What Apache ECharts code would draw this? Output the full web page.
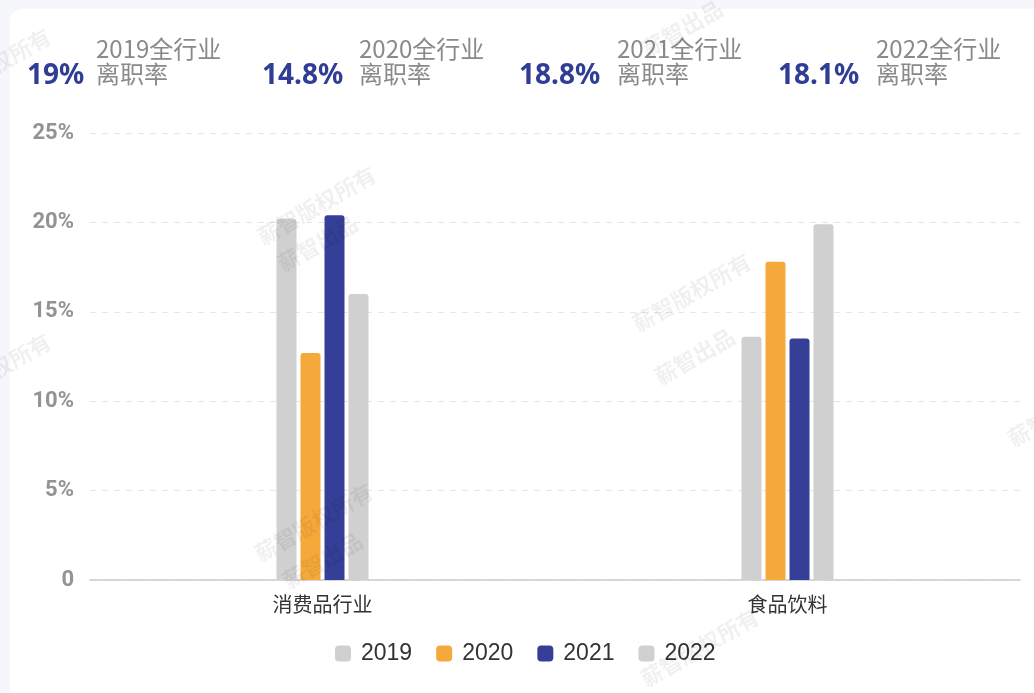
<!DOCTYPE html>
<html>
<head>
<meta charset="utf-8">
<script src="https://cdn.jsdelivr.net/npm/echarts@6/dist/echarts.min.js"></script>
<style>
  html, body { margin: 0; padding: 0; background: #f5f7fb; }
  #card { position: absolute; left: 10px; top: 9px; width: 1040px; height: 700px; background: #fff; border-radius: 12px; }
  #chart { position: absolute; left: 0; top: 0; width: 1034px; height: 693px; }
</style>
</head>
<body>
<div id="card"></div>
<div id="chart"></div>
<script>
"use strict";
/** Categories on the x axis */
const categories = ["消费品行业", "食品饮料"];
/** Years, one series each */
const years = ["2019", "2020", "2021", "2022"];
/** Turnover rate (%) per year, in category order */
const rate2019 = [20.2, 13.6];
const rate2020 = [12.7, 17.8];
const rate2021 = [20.4, 13.5];
const rate2022 = [16.0, 19.9];
/** Whole-industry turnover rate (%) per year, shown in the header */
const overallRate = [19, 14.8, 18.8, 18.1];
/** Y axis ticks */
const yMax = 25;
const yStep = 5;

const seriesValues = [rate2019, rate2020, rate2021, rate2022];
const colors = ["#d0d0d0", "#f6a93b", "#353f97", "#d0d0d0"];

/* ============= header blocks ============= */
const numberX = [27, 262, 519, 778];
const labelX = [96, 359, 617, 876];
let graphics = [];
years.forEach((year, i) => {
    graphics.push({
        type: "text", left: numberX[i], top: 62,
        style: { text: overallRate[i] + "%", fill: "#2f3d94", font: "bold 28px 'Noto Sans', sans-serif" }
    });
    graphics.push({
        type: "text", left: labelX[i], top: 36,
        style: {
            text: year + "全行业\n离职率", fill: "#8a8a8a",
            font: "24px 'Noto Sans CJK SC', sans-serif", lineHeight: 25
        }
    });
});

/* ============= watermarks ============= */
const marks = [
    [265, 248, "薪智版权所有"], [285, 275, "薪智出品"],
    [640, 335, "薪智版权所有"], [662, 388, "薪智出品"],
    [262, 565, "薪智版权所有"], [290, 592, "薪智出品"],
    [648, 690, "薪智版权所有"], [650, 60, "薪智出品"],
    [-60, 110, "薪智版权所有"], [-60, 415, "薪智版权所有"],
    [1015, 450, "薪智版权所有"]
];
marks.forEach((m) => {
    graphics.push({
        type: "text", x: m[0], y: m[1], rotation: Math.PI / 6, z: 100, silent: true,
        style: { text: m[2], fill: "rgba(0,0,0,0.06)", font: "bold 22px 'Noto Sans CJK SC', sans-serif", verticalAlign: "bottom" }
    });
});

let chart = echarts.init(document.getElementById("chart"));
chart.setOption({
    animation: false,
    color: colors,
    graphic: graphics,
    legend: {
        bottom: 23,
        left: 330,
        itemWidth: 16,
        itemHeight: 16,
        itemGap: 24,
        icon: "roundRect",
        textStyle: { fontSize: 23, color: "#333", fontFamily: "'Liberation Sans', Arial, sans-serif", padding: [0, 0, 0, 5] },
        data: years.map((y, i) => ({ name: y, itemStyle: { color: colors[i] } }))
    },
    grid: { left: 90, right: 14, top: 133, bottom: 113 },
    xAxis: {
        type: "category",
        data: categories,
        axisTick: { show: false },
        axisLine: { lineStyle: { color: "#cccccc", width: 1.5 } },
        axisLabel: { color: "#333", fontSize: 20, margin: 14, fontFamily: "'Noto Sans CJK SC', sans-serif" }
    },
    yAxis: {
        type: "value",
        min: 0,
        max: yMax,
        interval: yStep,
        axisLine: { show: false },
        axisTick: { show: false },
        splitLine: { lineStyle: { type: [6, 6], color: "#e4e6f2" } },
        axisLabel: {
            color: "#939393", fontSize: 22, fontWeight: "bold", margin: 16,
            fontFamily: "Roboto, sans-serif",
            formatter: (v) => (v === 0 ? "0" : v + "%")
        }
    },
    series: years.map((y, i) => ({
        name: y,
        type: "bar",
        barWidth: 20,
        barGap: "20%",
        itemStyle: { color: colors[i], borderRadius: [3, 3, 0, 0] },
        data: seriesValues[i]
    }))
});
</script>
</body>
</html>
